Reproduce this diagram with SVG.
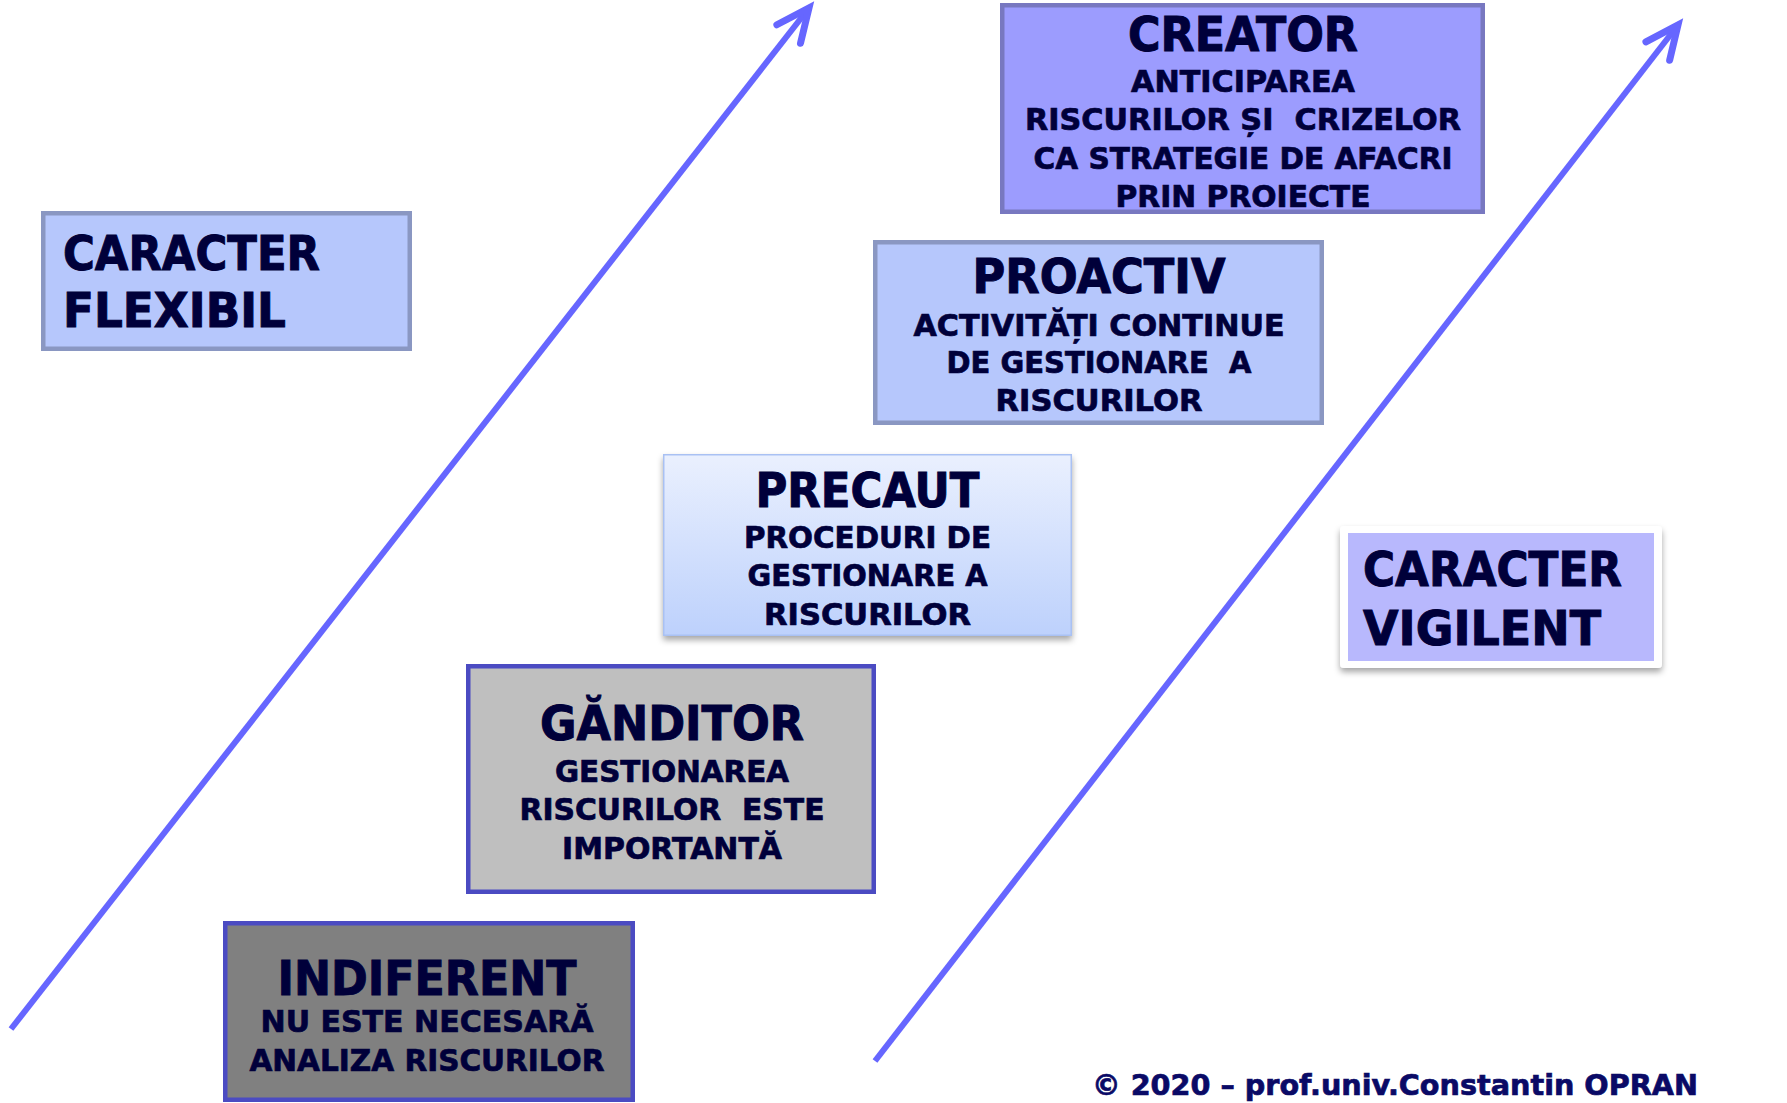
<svg xmlns="http://www.w3.org/2000/svg" width="1787" height="1103" viewBox="0 0 1787 1103">
  <defs>
    <style>
      text { font-family: "DejaVu Sans", Verdana, sans-serif; font-weight: bold; fill: #00003a; stroke: #00003a; stroke-width: 0.7px; }
      .t { font-size: 48px; stroke-width: 1px; }
      .s { font-size: 30px; }
      .c { text-anchor: middle; }
      .arrow { stroke: #6666ff; stroke-width: 6; fill: none; marker-end: url(#ah); }
    </style>
    <marker id="ah" markerUnits="userSpaceOnUse" orient="auto" refX="0" refY="0" markerWidth="1" markerHeight="1" overflow="visible">
      <path d="M-33,-15 L0,0 L-33,15" fill="none" stroke="#6666ff" stroke-width="7" stroke-linecap="round" stroke-linejoin="miter"/>
    </marker>
    <linearGradient id="precautGrad" x1="0" y1="0" x2="0" y2="1">
      <stop offset="0" stop-color="#eaf0fe"/>
      <stop offset="1" stop-color="#bdd1fc"/>
    </linearGradient>
    <filter id="shadow" x="-10%" y="-10%" width="120%" height="130%">
      <feDropShadow dx="0" dy="4" stdDeviation="3" flood-color="#000" flood-opacity="0.35"/>
    </filter>
  </defs>
  <rect width="1787" height="1103" fill="#ffffff"/>

  <g id="connectors">
    <line class="arrow" x1="11" y1="1029" x2="809" y2="8"/>
    <line class="arrow" x1="875" y1="1061" x2="1678" y2="25"/>
  </g>

  <g id="caracter-flexibil">
    <rect x="43.25" y="213.25" width="366.5" height="135.5" fill="#b6c7fc" stroke="#8a97c2" stroke-width="4.5"/>
    <text class="t" x="63" y="269.5" textLength="257" lengthAdjust="spacingAndGlyphs">CARACTER</text>
    <text class="t" x="63" y="327.4" textLength="223" lengthAdjust="spacingAndGlyphs">FLEXIBIL</text>
  </g>

  <g id="creator">
    <rect x="1002.25" y="5.25" width="480.5" height="206.5" fill="#9c9cfe" stroke="#7878c0" stroke-width="4.5"/>
    <text class="t c" x="1243" y="51" textLength="230" lengthAdjust="spacingAndGlyphs">CREATOR</text>
    <text class="s c" x="1243" y="92" textLength="224" lengthAdjust="spacingAndGlyphs">ANTICIPAREA</text>
    <text class="s c" x="1243" y="130.3" textLength="436" lengthAdjust="spacingAndGlyphs" xml:space="preserve">RISCURILOR ȘI  CRIZELOR</text>
    <text class="s c" x="1243" y="168.5" textLength="419" lengthAdjust="spacingAndGlyphs">CA STRATEGIE DE AFACRI</text>
    <text class="s c" x="1243" y="207" textLength="255" lengthAdjust="spacingAndGlyphs">PRIN PROIECTE</text>
  </g>

  <g id="proactiv">
    <rect x="875.25" y="242.25" width="446.5" height="180.5" fill="#b6c7fc" stroke="#8a97c2" stroke-width="4.5"/>
    <text class="t c" x="1099" y="292.7" textLength="253" lengthAdjust="spacingAndGlyphs">PROACTIV</text>
    <text class="s c" x="1099" y="335.6" textLength="371" lengthAdjust="spacingAndGlyphs">ACTIVITĂȚI CONTINUE</text>
    <text class="s c" x="1099" y="373" textLength="305" lengthAdjust="spacingAndGlyphs" xml:space="preserve">DE GESTIONARE  A</text>
    <text class="s c" x="1099" y="411" textLength="207" lengthAdjust="spacingAndGlyphs">RISCURILOR</text>
  </g>

  <g id="precaut">
    <rect x="663.75" y="454.75" width="407.5" height="180.5" fill="url(#precautGrad)" stroke="#a9c1f3" stroke-width="1.5" filter="url(#shadow)"/>
    <text class="t c" x="867.5" y="506.7" textLength="224" lengthAdjust="spacingAndGlyphs">PRECAUT</text>
    <text class="s c" x="867.5" y="548.3" textLength="247" lengthAdjust="spacingAndGlyphs">PROCEDURI DE</text>
    <text class="s c" x="867.5" y="586" textLength="240" lengthAdjust="spacingAndGlyphs">GESTIONARE A</text>
    <text class="s c" x="867.5" y="625" textLength="207" lengthAdjust="spacingAndGlyphs">RISCURILOR</text>
  </g>

  <g id="ganditor">
    <rect x="468.25" y="666.25" width="405.5" height="225.5" fill="#bfbfbf" stroke="#4b4bc2" stroke-width="4.5"/>
    <text class="t c" x="672" y="740" textLength="264" lengthAdjust="spacingAndGlyphs">GĂNDITOR</text>
    <text class="s c" x="672" y="781.5" textLength="234" lengthAdjust="spacingAndGlyphs">GESTIONAREA</text>
    <text class="s c" x="672" y="820" textLength="305" lengthAdjust="spacingAndGlyphs" xml:space="preserve">RISCURILOR  ESTE</text>
    <text class="s c" x="672" y="858.6" textLength="220" lengthAdjust="spacingAndGlyphs">IMPORTANTĂ</text>
  </g>

  <g id="indiferent">
    <rect x="225.25" y="923.25" width="407.5" height="176.5" fill="#808080" stroke="#4b4bc2" stroke-width="4.5"/>
    <text class="t c" x="427" y="995" textLength="299" lengthAdjust="spacingAndGlyphs">INDIFERENT</text>
    <text class="s c" x="427" y="1031.7" textLength="333" lengthAdjust="spacingAndGlyphs">NU ESTE NECESARĂ</text>
    <text class="s c" x="427" y="1070.7" textLength="355" lengthAdjust="spacingAndGlyphs">ANALIZA RISCURILOR</text>
  </g>

  <g id="caracter-vigilent">
    <rect x="1340" y="526" width="322" height="142" rx="4" fill="#ffffff" filter="url(#shadow)"/>
    <rect x="1348" y="533" width="306" height="128" fill="#b8b8fd"/>
    <text class="t" x="1363" y="586" textLength="259" lengthAdjust="spacingAndGlyphs">CARACTER</text>
    <text class="t" x="1363" y="645" textLength="238" lengthAdjust="spacingAndGlyphs">VIGILENT</text>
  </g>

  <g id="footer">
    <text x="1092" y="1095" style="font-size:29px; fill:#0a0a66; stroke:#0a0a66" textLength="606" lengthAdjust="spacingAndGlyphs">© 2020 – prof.univ.Constantin OPRAN</text>
  </g>
</svg>
